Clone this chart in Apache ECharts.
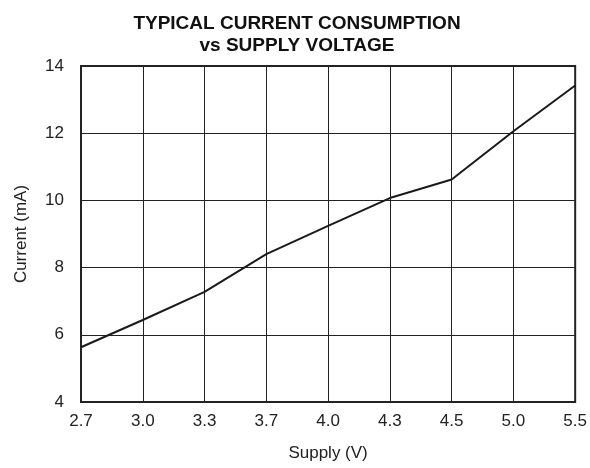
<!DOCTYPE html>
<html>
<head>
<meta charset="utf-8">
<script src="https://cdn.jsdelivr.net/npm/echarts@6/dist/echarts.min.js"></script>
<style>
  html, body { margin: 0; padding: 0; background: #fff; }
  #chart { width: 590px; height: 468px; }
</style>
</head>
<body>
<div id="chart"></div>
<script>
// supply voltage categories (evenly spaced on the original plot)
const supplyVoltages = ['2.7', '3.0', '3.3', '3.7', '4.0', '4.3', '4.5', '5.0', '5.5']
// typical current in mA
const currentMa = [5.63, 6.44, 7.28, 8.4, 9.24, 10.07, 10.62, 12.06, 13.42]

const FONT = '"Liberation Sans", Arial, sans-serif'

const chart = echarts.init(document.getElementById('chart'))

chart.setOption({
  animation: false,
  backgroundColor: '#fff',
  title: {
    text: 'TYPICAL CURRENT CONSUMPTION\nvs SUPPLY VOLTAGE',
    left: 292,
    textAlign: 'center',
    top: 8,
    textStyle: {
      fontFamily: FONT,
      fontSize: 19,
      fontWeight: 'bold',
      color: '#111',
      lineHeight: 22
    }
  },
  grid: {
    left: 81,
    right: 14,
    top: 66,
    bottom: 66,
    show: true,
    borderColor: '#222',
    borderWidth: 2,
    containLabel: false
  },
  xAxis: {
    type: 'category',
    data: supplyVoltages,
    boundaryGap: false,
    name: 'Supply (V)',
    nameLocation: 'middle',
    nameGap: 43,
    nameTextStyle: { fontFamily: FONT, fontSize: 17, color: '#222' },
    axisLine: { show: false },
    axisTick: { show: false },
    axisLabel: { fontFamily: FONT, fontSize: 17, color: '#222', margin: 11 },
    splitLine: { show: true, lineStyle: { color: '#222', width: 1 } }
  },
  yAxis: {
    type: 'value',
    min: 4,
    max: 14,
    interval: 2,
    name: 'Current (mA)',
    nameLocation: 'middle',
    nameGap: 51,
    nameTextStyle: { fontFamily: FONT, fontSize: 17, color: '#222' },
    axisLine: { show: false },
    axisTick: { show: false },
    axisLabel: { fontFamily: FONT, fontSize: 17, color: '#222', margin: 17 },
    splitLine: { show: true, lineStyle: { color: '#222', width: 1 } }
  },
  series: [{
    type: 'line',
    data: currentMa,
    symbol: 'none',
    lineStyle: { color: '#1a1a1a', width: 2 }
  }]
})
</script>
</body>
</html>
